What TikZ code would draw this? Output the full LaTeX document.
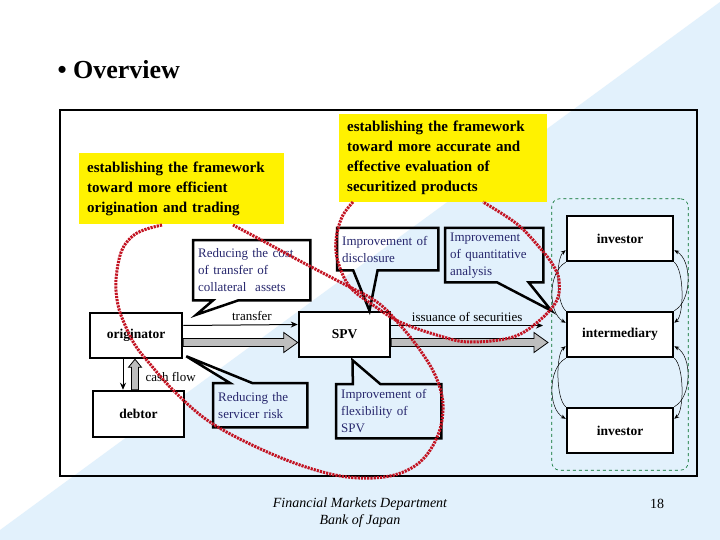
\documentclass[tikz,border=0pt]{standalone}
\usepackage{fontspec}
\setmainfont{Liberation Serif}
\usetikzlibrary{calc,fit,arrows.meta}

\definecolor{bgblue}{RGB}{226,241,252}
\definecolor{notenavy}{RGB}{40,40,110}
\definecolor{loopred}{RGB}{195,20,35}
\definecolor{grpgreen}{RGB}{0,110,40}
\definecolor{shaftgray}{RGB}{190,190,190}

\tikzset{
  party/.style={draw, line width=2.5pt, fill=white, minimum width=92pt, minimum height=45pt,
    font=\fontsize{13.5}{15}\selectfont\bfseries},
  goal/.style={fill=yellow, align=left, anchor=north west, inner xsep=8pt, inner ysep=0pt,
    font=\fontsize{15}{20}\selectfont\bfseries},
  note/.style={align=left, anchor=north west, inner xsep=5pt, inner ysep=0pt, text=notenavy,
    font=\fontsize{13}{17}\selectfont},
  noteline/.style={line width=2.5pt, line join=miter},
  blockarr/.style={fill=shaftgray, draw=black, line width=0.8pt},
  flowlabel/.style={font=\fontsize{13}{15}\selectfont},
  loopar/.style={-{Stealth[length=5pt,width=4pt]}, line width=0.5pt},
  redloop/.style={loopred, line width=3pt, dash pattern=on 2.2pt off 1pt},
}

\begin{document}
\begin{tikzpicture}[x=1pt, y=-1pt, >={Stealth[length=7pt,width=6pt]}]
  \useasboundingbox (0,0) rectangle (720,540);
  % background
  \fill[white] (0,0) rectangle (720,540);
  \fill[bgblue] (720,2) -- (720,540) -- (0,540) -- (0,530) -- cycle;

  % title
  \node[anchor=west, font=\fontsize{26}{30}\selectfont\bfseries] (title) at (54,70) {\textbullet\ Overview};

  % frame
  \draw[line width=2pt] (60,110) rectangle (697,476);

  % parties
  \node[party] (orig) at (136,335.5) {originator};
  \node[party, minimum width=91pt, minimum height=46pt] (debtor) at (138.5,414) {debtor};
  \node[party, minimum width=91pt] (spv) at (344.5,334.5) {SPV};
  \node[party, minimum width=106pt] (inv1) at (620,238.5) {investor};
  \node[party, minimum width=106pt] (mid) at (620,334.5) {intermediary};
  \node[party, minimum width=106pt] (inv2) at (620,430.5) {investor};
  \node[fit=(inv1)(inv2), inner xsep=14pt, inner ysep=16pt, draw=grpgreen, dashed,
    rounded corners=8pt, line width=0.6pt] (grp) {};

  % goals
  \node[goal, text width=189pt, minimum height=71pt] (goal1) at (79,153)
    {establishing the framework\\toward more efficient\\origination and trading};
  \node[goal, text width=192pt, minimum height=88pt] (goal2) at (339,114)
    {establishing the framework\\toward more accurate and\\effective evaluation of\\securitized products};

  % flows
  \draw[->, line width=1pt] ([yshift=10]orig.east) -- ([yshift=10]spv.west)
    node[pos=0.6, above, flowlabel] {transfer};
  \draw[blockarr] let \p1=([yshift=-7]orig.east), \p2=([yshift=-7]spv.west) in
    (\x1,\y1+4pt) -- (\x2-14pt,\y1+4pt) -- (\x2-14pt,\y1+10pt) -- (\x2,\y1)
    -- (\x2-14pt,\y1-10pt) -- (\x2-14pt,\y1-4pt) -- (\x1,\y1-4pt) -- cycle;

  \coordinate (issueend) at (543,325.5);
  \coordinate (secend) at (548,342.5);
  \draw[->, line width=1pt] ([yshift=9]spv.east) -- (issueend)
    node[midway, above, flowlabel] {issuance of securities};
  \draw[blockarr] let \p1=([yshift=-8]spv.east), \p2=(secend) in
    (\x1,\y1+4pt) -- (\x2-14pt,\y1+4pt) -- (\x2-14pt,\y1+10pt) -- (\x2,\y1)
    -- (\x2-14pt,\y1-10pt) -- (\x2-14pt,\y1-4pt) -- (\x1,\y1-4pt) -- cycle;

  \coordinate (dn) at ([xshift=-13]orig.south);
  \draw[->, line width=1pt] (dn) -- (dn |- debtor.north);
  \draw[blockarr] let \p1=([xshift=-3.5]debtor.north), \p2=(orig.south) in
    (\x1-3.5pt,\y1) -- (\x1-3.5pt,\y2-8pt) -- (\x1-6.5pt,\y2-8pt) -- (\x1,\y2)
    -- (\x1+6.5pt,\y2-8pt) -- (\x1+3.5pt,\y2-8pt) -- (\x1+3.5pt,\y1) -- cycle;
  \node[anchor=west, flowlabel] (cflabel) at (142,377) {cash flow};

  % trading among investors and intermediary
  \foreach \a/\b in {inv1/mid, mid/inv2} {
    \draw[loopar] (\a.south west) .. controls +(-18,10) and +(-18,-10) .. ([yshift=-12]\b.north west);
    \draw[loopar] (\b.north west) .. controls +(-10,-8) and +(-10,8) .. ([yshift=12]\a.south west);
    \draw[loopar] (\b.north east) .. controls +(18,-10) and +(18,10) .. ([yshift=12]\a.south east);
    \draw[loopar] (\a.south east) .. controls +(10,8) and +(10,-8) .. ([yshift=-12]\b.north east);
  }

  % callouts
  \node[note, text width=107pt, minimum height=60pt] (cost) at (193,240)
    {Reducing the cost\\of transfer of\\collateral\ \ assets};
  \coordinate (costtip) at ([xshift=13,yshift=-3]orig.north east);
  \draw[noteline] (cost.south west) -- (cost.north west) -- (cost.north east) -- (cost.south east)
    -- ($(cost.south west)!0.385!(cost.south east)$) -- (costtip)
    -- ($(cost.south west)!0.17!(cost.south east)$) -- cycle;

  \node[note, text width=91pt, minimum height=42pt] (discl) at (337,228)
    {Improvement of\\disclosure};
  \draw[noteline] (discl.south west) -- (discl.north west) -- (discl.north east) -- (discl.south east)
    -- ($(discl.south west)!0.40!(discl.south east)$) -- ([xshift=25]spv.north)
    -- ($(discl.south west)!0.16!(discl.south east)$) -- cycle;

  \node[note, text width=88pt, minimum height=54pt] (quant) at (445,228)
    {Improvement\\of quantitative\\analysis};
  \draw[noteline] (quant.south west) -- (quant.north west) -- (quant.north east) -- (quant.south east)
    -- ($(quant.south west)!0.85!(quant.south east)$) -- (grp.west |- mid.north)
    -- ($(quant.south west)!0.53!(quant.south east)$) -- cycle;

  \node[note, text width=84pt, minimum height=44pt] (servicer) at (213,383)
    {Reducing the\\servicer risk};
  \draw[noteline] (servicer.north west) -- ($(servicer.north west)!0.18!(servicer.north east)$)
    -- ([xshift=3,yshift=3]orig.south east) -- ($(servicer.north west)!0.415!(servicer.north east)$)
    -- (servicer.north east) -- (servicer.south east) -- (servicer.south west) -- cycle;

  \node[note, text width=95pt, minimum height=54pt] (flex) at (336,384)
    {Improvement of\\flexibility of\\SPV};
  \draw[noteline] (flex.north west) -- ($(flex.north west)!0.16!(flex.north east)$)
    -- ([xshift=8,yshift=-2]spv.south) -- ($(flex.north west)!0.42!(flex.north east)$)
    -- (flex.north east) -- (flex.south east) -- (flex.south west) -- cycle;

  % red loops
  \draw[redloop] plot[smooth, tension=0.6] coordinates {(162,225) (137,233) (122,250) (116,280)
    (118,305) (125,325) (135,345) (150,364) (173,390) (207,420) (250,444) (300,465) (347,477)
    (390,476) (420,462) (438,435) (443,405) (436,377) (420,350) (400,325) (377,302) (340,282)
    (300,261) (265,242) (233,225)};
  \draw[redloop] plot[smooth, tension=0.6] coordinates {(353,202) (342,217) (336,240) (338,262)
    (350,287) (373,305) (400,322) (440,336) (470,342) (513,337) (540,320) (557,300) (559,280)
    (553,265) (540,248) (517,224) (483,202)};

  % footer
  \node[align=center, font=\fontsize{14}{17}\selectfont\itshape] (dept) at (360,512.5)
    {Financial Markets Department\\Bank of Japan};
  \node[font=\fontsize{14}{17}\selectfont] (page) at (657,504) {18};
\end{tikzpicture}
\end{document}
